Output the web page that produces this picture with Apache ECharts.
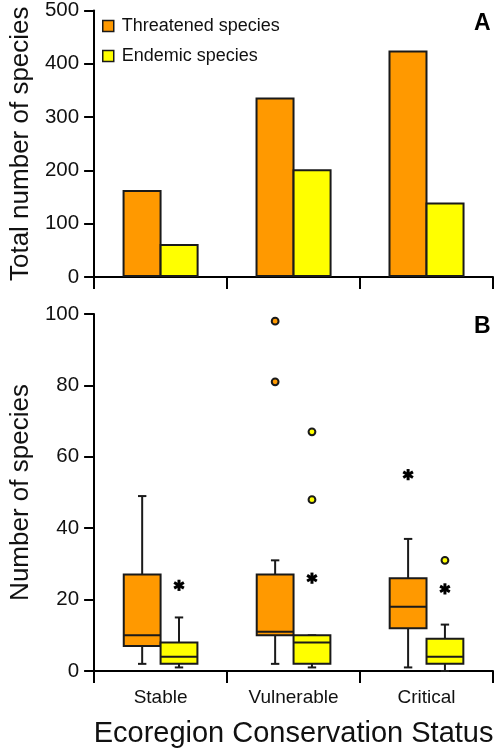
<!DOCTYPE html>
<html>
<head>
<meta charset="utf-8">
<script src="https://cdn.jsdelivr.net/npm/echarts@6/dist/echarts.min.js"></script>
<style>
html,body{margin:0;padding:0;background:#fff;}
#chart{width:498px;height:751px;}
</style>
</head>
<body>
<div id="chart"></div>
<script>
// ---- Data ----
const categories = ['Stable', 'Vulnerable', 'Critical'];
const totalThreatened = [163, 337, 425];
const totalEndemic = [62, 202, 140];
// [categoryIndex, min, Q1, median, Q3, max]
const boxThreatened = [
  [0, 2, 7, 10, 27, 49],
  [1, 2, 10, 11, 27, 31],
  [2, 1, 12, 18, 26, 37]
];
const boxEndemic = [
  [0, 1, 2, 4, 8, 15],
  [1, 1, 2, 8, 10, 10],
  [2, 0, 2, 4, 9, 13]
];
// outliers (circles): [categoryIndex, value]
const outThreatened = [[1, 98], [1, 81]];
const outEndemic = [[1, 67], [1, 48], [2, 31]];
// extremes (asterisks): [categoryIndex, value]
const extThreatened = [[2, 55]];
const extEndemic = [[0, 24], [1, 26], [2, 23]];
const yTicksA = [0, 100, 200, 300, 400, 500];
const yTicksB = [0, 20, 40, 60, 80, 100];

const ORANGE = '#FF9900';
const YELLOW = '#FFFF00';
const EDGE = '#1a1a1a';
const FONT = 'Liberation Sans, Arial, sans-serif';

function boxRenderer(sign, color) {
  return function (params, api) {
    const cat = api.value(0);
    const band = api.size([1, 0])[0];
    const w = band * 0.277;
    const cx = api.coord([cat, 0])[0] + sign * w / 2;
    const yMin = api.coord([cat, api.value(1)])[1];
    const yQ1 = api.coord([cat, api.value(2)])[1];
    const yMed = api.coord([cat, api.value(3)])[1];
    const yQ3 = api.coord([cat, api.value(4)])[1];
    const yMax = api.coord([cat, api.value(5)])[1];
    const cap = 4.2;
    const ls = { stroke: EDGE, lineWidth: 2 };
    return {
      type: 'group',
      children: [
        { type: 'line', shape: { x1: cx, y1: yQ3, x2: cx, y2: yMax }, style: ls },
        { type: 'line', shape: { x1: cx - cap, y1: yMax, x2: cx + cap, y2: yMax }, style: ls },
        { type: 'line', shape: { x1: cx, y1: yQ1, x2: cx, y2: yMin }, style: ls },
        { type: 'line', shape: { x1: cx - cap, y1: yMin, x2: cx + cap, y2: yMin }, style: ls },
        { type: 'rect', shape: { x: cx - w / 2, y: yQ3, width: w, height: yQ1 - yQ3 },
          style: { fill: color, stroke: EDGE, lineWidth: 2 } },
        { type: 'line', shape: { x1: cx - w / 2, y1: yMed, x2: cx + w / 2, y2: yMed }, style: ls }
      ]
    };
  };
}

function circleRenderer(sign, color) {
  return function (params, api) {
    const cat = api.value(0);
    const band = api.size([1, 0])[0];
    const w = band * 0.277;
    const p = api.coord([cat, api.value(1)]);
    return {
      type: 'circle',
      shape: { cx: p[0] + sign * w / 2, cy: p[1], r: 3.4 },
      style: { fill: color, stroke: EDGE, lineWidth: 2 }
    };
  };
}

function starRenderer(sign) {
  return function (params, api) {
    const cat = api.value(0);
    const band = api.size([1, 0])[0];
    const w = band * 0.277;
    const p = api.coord([cat, api.value(1)]);
    const cx = p[0] + sign * w / 2, cy = p[1];
    const r = 5.6;
    const children = [];
    [90, 30, 150].forEach(function (deg) {
      const a = deg * Math.PI / 180;
      children.push({ type: 'line',
        shape: { x1: cx - r * Math.cos(a), y1: cy - r * Math.sin(a), x2: cx + r * Math.cos(a), y2: cy + r * Math.sin(a) },
        style: { stroke: '#000', lineWidth: 3, lineCap: 'butt' } });
    });
    return { type: 'group', children: children };
  };
}

const axisLine = { show: true, lineStyle: { color: '#000', width: 2 } };
const axisTick = { show: true, length: 10, lineStyle: { color: '#000', width: 2 } };

const chart = echarts.init(document.getElementById('chart'), null, { renderer: 'canvas' });
chart.setOption({
  backgroundColor: '#fff',
  animation: false,
  textStyle: { fontFamily: FONT },
  legend: {
    orient: 'vertical',
    left: 97, top: 12,
    itemWidth: 11, itemHeight: 11, itemGap: 12,
    icon: 'rect',
    itemStyle: { borderWidth: 1.5, borderColor: EDGE },
    textStyle: { fontSize: 18, color: '#111', fontFamily: FONT, padding: [0, 0, 0, 3] },
    data: ['Threatened species', 'Endemic species']
  },
  grid: [
    { left: 89, top: 10, width: 404, height: 267 },
    { left: 89, top: 314, width: 404, height: 357 }
  ],
  xAxis: [
    { type: 'category', gridIndex: 0, data: categories, boundaryGap: true,
      axisLine: axisLine, axisTick: Object.assign({}, axisTick, { length: 12 }),
      axisLabel: { show: false }, splitLine: { show: false } },
    { type: 'category', gridIndex: 1, data: categories, boundaryGap: true,
      axisLine: axisLine, axisTick: Object.assign({}, axisTick, { length: 12 }),
      axisLabel: { fontSize: 19, color: '#111', margin: 17, fontFamily: FONT },
      name: 'Ecoregion Conservation Status', nameLocation: 'middle', nameGap: 48,
      nameTextStyle: { fontSize: 29, color: '#111', fontFamily: FONT },
      splitLine: { show: false } }
  ],
  yAxis: [
    { type: 'value', gridIndex: 0, min: yTicksA[0], max: yTicksA[yTicksA.length - 1], interval: 100,
      axisLine: axisLine, axisTick: axisTick,
      axisLabel: { fontSize: 20.5, color: '#111', margin: 15, fontFamily: FONT },
      splitLine: { show: false },
      name: 'Total number of species', nameLocation: 'middle', nameGap: 59,
      nameTextStyle: { fontSize: 26, color: '#111', fontFamily: FONT } },
    { type: 'value', gridIndex: 1, min: yTicksB[0], max: yTicksB[yTicksB.length - 1], interval: 20,
      axisLine: axisLine, axisTick: axisTick,
      axisLabel: { fontSize: 20.5, color: '#111', margin: 15, fontFamily: FONT },
      splitLine: { show: false },
      name: 'Number of species', nameLocation: 'middle', nameGap: 59,
      nameTextStyle: { fontSize: 26, color: '#111', fontFamily: FONT } }
  ],
  series: [
    { name: 'Threatened species', type: 'bar', xAxisIndex: 0, yAxisIndex: 0,
      data: totalThreatened, barWidth: 39, barGap: '-5%',
      itemStyle: { color: ORANGE, borderColor: EDGE, borderWidth: 2 } },
    { name: 'Endemic species', type: 'bar', xAxisIndex: 0, yAxisIndex: 0,
      data: totalEndemic, barWidth: 39, barGap: '-5%',
      itemStyle: { color: YELLOW, borderColor: EDGE, borderWidth: 2 } },
    { type: 'custom', xAxisIndex: 1, yAxisIndex: 1, data: boxThreatened,
      encode: { x: 0, y: [1, 2, 3, 4, 5] }, renderItem: boxRenderer(-1, ORANGE), clip: false },
    { type: 'custom', xAxisIndex: 1, yAxisIndex: 1, data: boxEndemic,
      encode: { x: 0, y: [1, 2, 3, 4, 5] }, renderItem: boxRenderer(1, YELLOW), clip: false },
    { type: 'custom', xAxisIndex: 1, yAxisIndex: 1, data: outThreatened,
      encode: { x: 0, y: 1 }, renderItem: circleRenderer(-1, ORANGE) },
    { type: 'custom', xAxisIndex: 1, yAxisIndex: 1, data: outEndemic,
      encode: { x: 0, y: 1 }, renderItem: circleRenderer(1, YELLOW) },
    { type: 'custom', xAxisIndex: 1, yAxisIndex: 1, data: extThreatened,
      encode: { x: 0, y: 1 }, renderItem: starRenderer(-1) },
    { type: 'custom', xAxisIndex: 1, yAxisIndex: 1, data: extEndemic,
      encode: { x: 0, y: 1 }, renderItem: starRenderer(1) }
  ],
  graphic: [
    { type: 'text', left: 474, top: 12,
      style: { text: 'A', font: 'bold 23px ' + FONT, fill: '#000' } },
    { type: 'text', left: 474, top: 315,
      style: { text: 'B', font: 'bold 23px ' + FONT, fill: '#000' } }
  ]
});
</script>
</body>
</html>
